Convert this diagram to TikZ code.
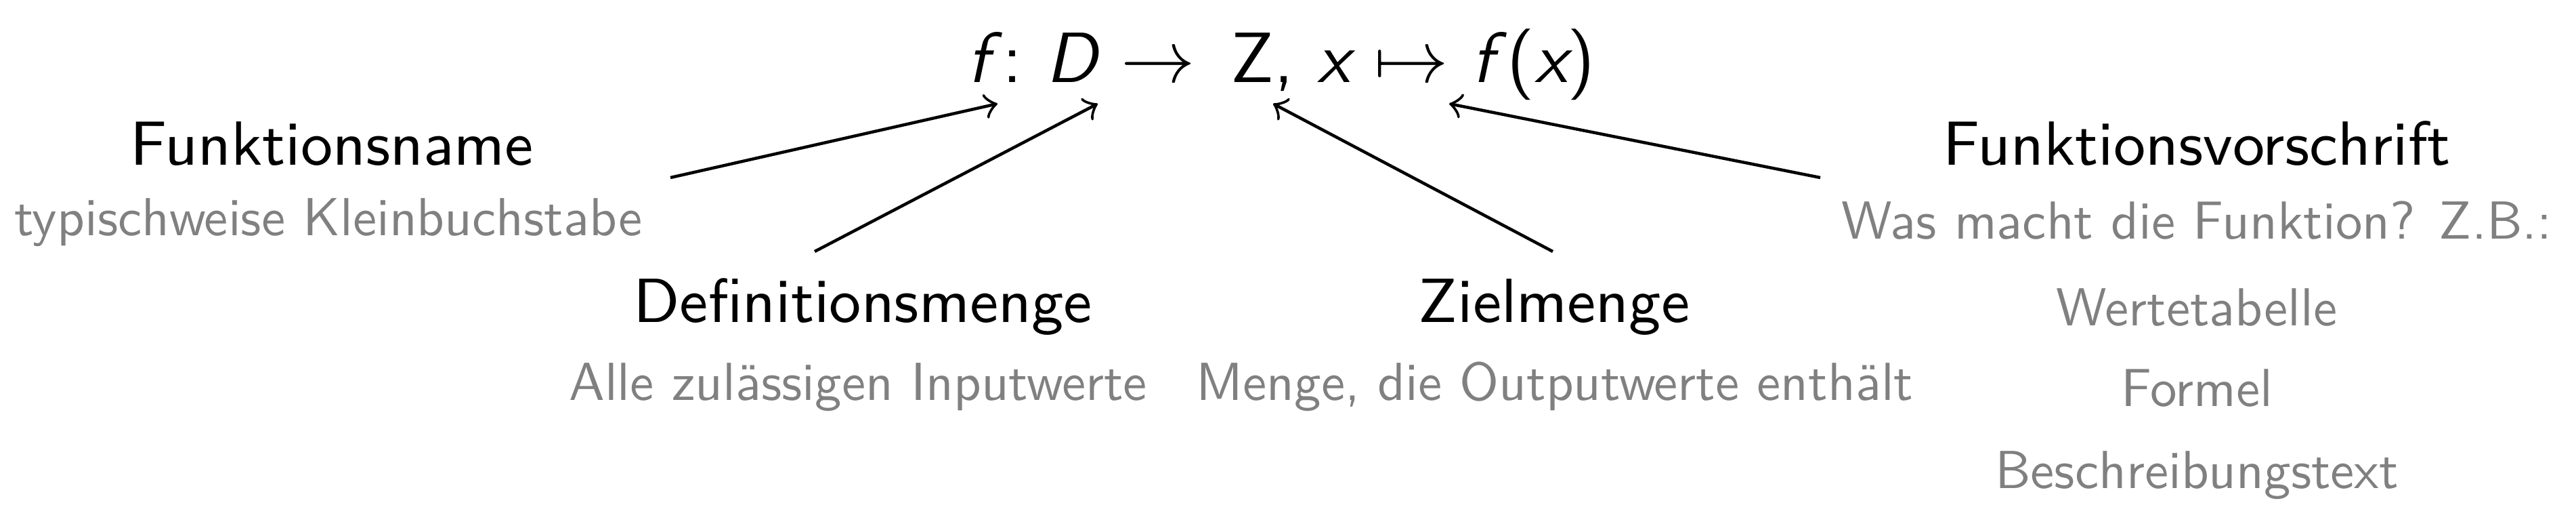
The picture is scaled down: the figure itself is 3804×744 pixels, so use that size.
\documentclass[tikz,border=0pt]{standalone}
\usepackage{fontspec}
\begin{document}
\begin{tikzpicture}[x=0.1pt,y=-0.1pt,
  title/.style={font=\fontsize{9.2}{11}\selectfont\sffamily, anchor=base, inner sep=0pt},
  note/.style={font=\fontsize{10}{12}\selectfont\sffamily, text=gray, anchor=base, inner sep=0pt, scale=0.79, transform shape},
  formula/.style={font=\fontsize{10.5}{13}\selectfont\sffamily, anchor=base, inner sep=0pt},
  ptr/.style={->, line width=0.45pt}]
\useasboundingbox (0,0) rectangle (3804,744);
% formula
\node[formula] (fx) at (1892,121) {{\itshape f\/}:\ {\itshape D}\ $\to$\ \,Z,\ {\itshape x}\ $\mapsto$\ {\itshape f\/}({\itshape x})};
% labels
\node[title] (fname) at (490,243) {Funktionsname};
\node[note] (fnamen) at (485,347) {typischweise Kleinbuchstabe};
\node[title] (dom) at (1274,475) {Definitionsmenge};
\node[note] (domn) at (1267,590) {Alle zulässigen Inputwerte};
\node[title] (cod) at (2295,475) {Zielmenge};
\node[note] (codn) at (2296,590) {Menge, die Outputwerte enthält};
\node[title] (rule) at (3244,243) {Funktionsvorschrift};
\node[note] (rulen) at (3244,352) {Was macht die Funktion? Z.B.:};
\node[note] (r1) at (3244,480) {Wertetabelle};
\node[note] (r2) at (3244,599) {Formel};
\node[note] (r3) at (3244,720) {Beschreibungstext};
% arrow ends
\coordinate (s1) at (990,262);  \coordinate (t1) at (1473,153);
\coordinate (s2) at (1203,371); \coordinate (t2) at (1621,153);
\coordinate (s3) at (2293,371); \coordinate (t3) at (1880,153);
\coordinate (s4) at (2688,262); \coordinate (t4) at (2140,153);
\draw[ptr] (s1) -- (t1);
\draw[ptr] (s2) -- (t2);
\draw[ptr] (s3) -- (t3);
\draw[ptr] (s4) -- (t4);
\end{tikzpicture}
\end{document}
